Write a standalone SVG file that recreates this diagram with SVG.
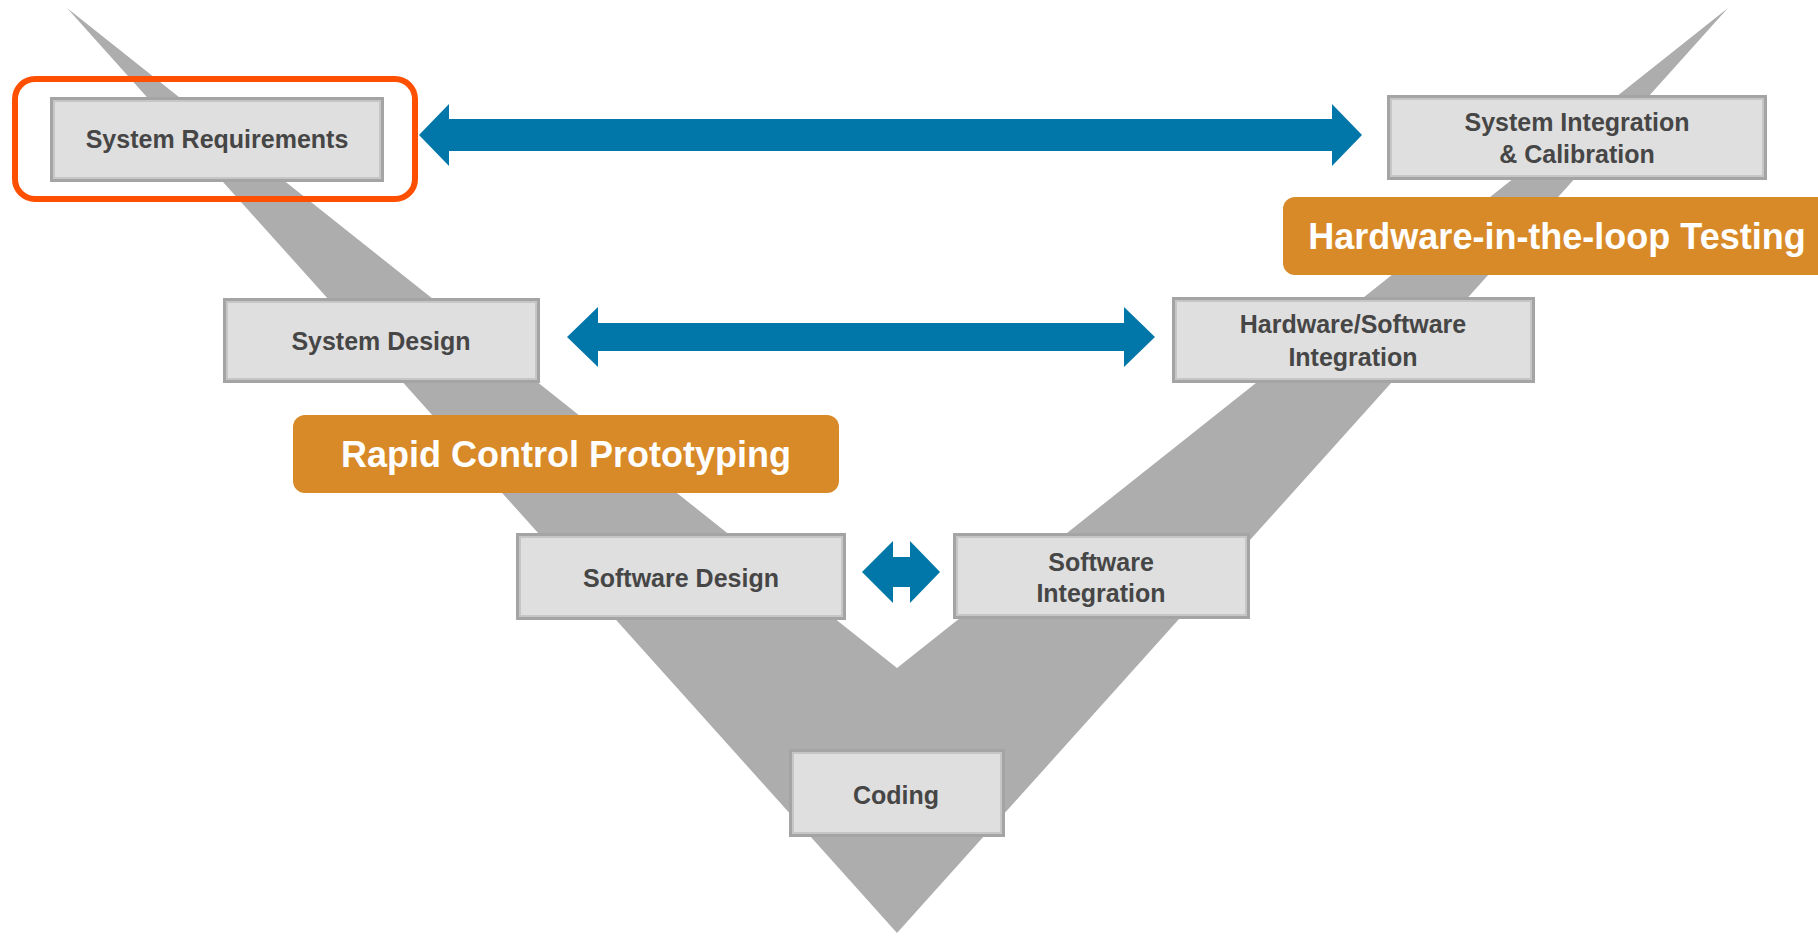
<svg xmlns="http://www.w3.org/2000/svg" width="1818" height="936" viewBox="0 0 1818 936">
<style>
.box{fill:#dfdfdf;stroke:#a4a4a4;stroke-width:3}
.boxin{fill:none;stroke:#c6c6c6;stroke-width:2}
.lbl{font-family:"Liberation Sans",Arial,sans-serif;font-size:25px;font-weight:bold;fill:#464646;text-anchor:middle}
.tag{fill:#d98a28}
.tagt{font-family:"Liberation Sans",Arial,sans-serif;font-size:36px;font-weight:bold;fill:#ffffff;text-anchor:middle}
.arr{fill:#0176a8}
</style>
<rect width="1818" height="936" fill="#ffffff"/>
<g id="vshape">
<polygon points="67,8 897,668 1728,8 897,933" fill="#adadad"/>
</g>
<g id="connectors">
<polygon class="arr" points="419,135 449,104 449,119 1332,119 1332,104 1362,135 1332,166 1332,151 449,151 449,166"/>
<polygon class="arr" points="567,337 598,307 598,323 1124,323 1124,307 1155,337 1124,367 1124,351 598,351 598,367"/>
<polygon class="arr" points="862,572 893,541 893,557 910,557 910,541 940,572 910,603 910,587 893,587 893,603"/>
</g>
<g id="system-requirements">
<rect class="box" x="51.5" y="98.5" width="331" height="82"/>
<rect class="boxin" x="54" y="101" width="326" height="77"/>
<text class="lbl" x="217" y="148">System Requirements</text>
</g>
<g id="system-integration">
<rect class="box" x="1388.5" y="96.5" width="377" height="82"/>
<rect class="boxin" x="1391" y="99" width="372" height="77"/>
<text class="lbl" x="1577" y="131">System Integration</text>
<text class="lbl" x="1577" y="163">&amp; Calibration</text>
</g>
<g id="system-design">
<rect class="box" x="224.5" y="299.5" width="314" height="82"/>
<rect class="boxin" x="227" y="302" width="309" height="77"/>
<text class="lbl" x="381" y="350">System Design</text>
</g>
<g id="hw-sw-integration">
<rect class="box" x="1173.5" y="298.5" width="360" height="83"/>
<rect class="boxin" x="1176" y="301" width="355" height="78"/>
<text class="lbl" x="1353" y="333">Hardware/Software</text>
<text class="lbl" x="1353" y="366">Integration</text>
</g>
<g id="software-design">
<rect class="box" x="517.5" y="534.5" width="327" height="84"/>
<rect class="boxin" x="520" y="537" width="322" height="79"/>
<text class="lbl" x="681" y="587">Software Design</text>
</g>
<g id="software-integration">
<rect class="box" x="954.5" y="534.5" width="294" height="83"/>
<rect class="boxin" x="957" y="537" width="289" height="78"/>
<text class="lbl" x="1101" y="571">Software</text>
<text class="lbl" x="1101" y="602">Integration</text>
</g>
<g id="coding">
<rect class="box" x="790.5" y="750.5" width="213" height="85"/>
<rect class="boxin" x="793" y="753" width="208" height="80"/>
<text class="lbl" x="896" y="804">Coding</text>
</g>
<g id="rapid-control-prototyping">
<rect class="tag" x="293" y="415" width="546" height="78" rx="12"/>
<text class="tagt" x="566" y="467">Rapid Control Prototyping</text>
</g>
<g id="hil-testing">
<rect class="tag" x="1283" y="197" width="560" height="78" rx="12"/>
<text class="tagt" x="1557" y="249">Hardware-in-the-loop Testing</text>
</g>
<g id="highlight">
<rect x="15" y="79" width="400" height="120" rx="20" fill="none" stroke="#fe5000" stroke-width="6"/>
</g>
</svg>
